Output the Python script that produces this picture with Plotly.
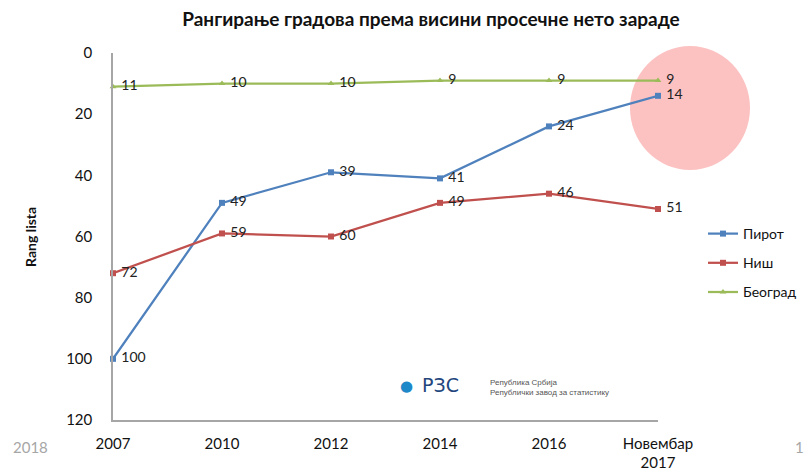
import plotly.graph_objects as go

categories = ["2007", "2010", "2012", "2014", "2016", "Новембар<br>2017"]
pirot = [100, 49, 39, 41, 24, 14]
nis = [72, 59, 60, 49, 46, 51]
beograd = [11, 10, 10, 9, 9, 9]
y_ticks = [0, 20, 40, 60, 80, 100, 120]

FONT = "Lato, Carlito, Calibri, sans-serif"
OFF = 8  # page body margin offset
W, H = 812 - OFF, 475 - OFF
L, R, T, B = 113 - OFF, 658 - OFF, 53 - OFF, 420 - OFF  # plot area in figure pixels


def px(x):
    return (x - OFF - L) / (R - L)


def py(y):
    return (B - (y - OFF)) / (B - T)


fig = go.Figure()

series = [
    ("Пирот", pirot, "#4F81BD", "square"),
    ("Ниш", nis, "#C0504D", "square"),
    ("Београд", beograd, "#9BBB59", "triangle-up"),
]
for name, vals, col, sym in series:
    fig.add_trace(go.Scatter(
        x=categories, y=vals, name=name, mode="lines+markers+text",
        legendgroup=name,
        line=dict(color=col, width=2.25),
        marker=dict(color=col, symbol=sym, size=6),
        text=[" " + str(v) for v in vals], textposition="middle right",
        textfont=dict(family=FONT, size=14, color="#222222"),
        cliponaxis=False,
    ))

fig.add_shape(type="circle", xref="paper", yref="paper",
              x0=px(630), x1=px(750), y0=py(170), y1=py(46),
              fillcolor="rgba(250,160,160,0.65)", line=dict(width=0), layer="below")

fig.update_layout(
    width=W, height=H,
    margin=dict(l=L, r=W - R, t=T, b=H - B, autoexpand=False),
    paper_bgcolor="white", plot_bgcolor="rgba(0,0,0,0)",
    title=dict(text="<b>Рангирање градова према висини просечне нето зараде</b>",
               x=(431 - OFF) / W, xanchor="center", y=1 - (19 - OFF) / H, yanchor="middle",
               font=dict(family=FONT, size=19, color="#111111")),
    font=dict(family=FONT, color="#111111"),
    legend=dict(x=px(703), y=py(218), xanchor="left", yanchor="top",
                font=dict(family=FONT, size=14, color="#111111"),
                tracegroupgap=8, itemwidth=30, bgcolor="rgba(0,0,0,0)"),
    showlegend=True,
)
fig.update_xaxes(type="category", range=[0, 5], showline=True, linecolor="#A6A6A6",
                 linewidth=1.5, showgrid=False, zeroline=False, ticks="", automargin=False,
                 ticklabelstandoff=9,
                 tickfont=dict(family=FONT, size=15, color="#111111"))
fig.update_yaxes(range=[120, 0], tickvals=y_ticks, showline=True, linecolor="#A6A6A6",
                 linewidth=1.5, showgrid=False, zeroline=False, ticks="", automargin=False,
                 ticklabelstandoff=16,
                 tickfont=dict(family=FONT, size=15, color="#111111"))


def note(text, x, y, size, color, family=FONT, angle=0, xanchor="center", align="center"):
    fig.add_annotation(text=text, textangle=angle, x=px(x), y=py(y), xref="paper", yref="paper",
                       xanchor=xanchor, yanchor="middle", align=align, showarrow=False,
                       font=dict(family=family, size=size, color=color))


# y axis title
note("<b>Rang lista</b>", 30, 237, 14, "#111111", angle=-90)
# footer texts and logo
note("2018", 30, 447, 15, "#A6A6A6")
note("1", 799, 447, 15, "#A6A6A6")
note("<b>●</b>", 406, 386, 15, "#1E88C8", family="DejaVu Sans")
note("РЗС", 440, 385, 19, "#23467D", family="DejaVu Sans")
note("Република Србија<br>Републички завод за статистику", 488, 387, 8, "#555555",
     family="Arial, sans-serif", xanchor="left", align="left")

fig.write_html("out.html")
